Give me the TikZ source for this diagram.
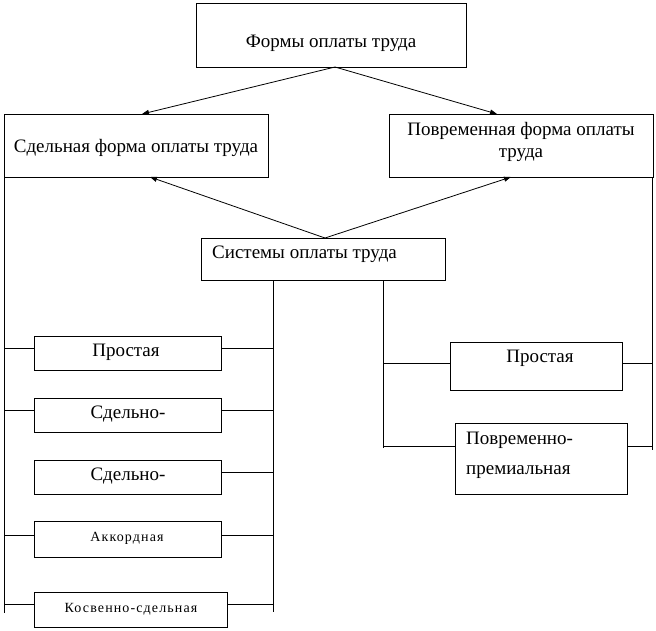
\documentclass[tikz,border=0pt]{standalone}
\usepackage{fontspec}
\setmainfont{Liberation Serif}
\usetikzlibrary{arrows.meta}
\begin{document}
\begin{tikzpicture}[x=1pt,y=-1pt,
  box/.style={draw, line width=0.9pt, inner sep=0pt, anchor=north west},
  txt/.style={inner sep=0pt, font=\fontsize{19}{22}\selectfont},
  small/.style={inner sep=0pt, font=\fontsize{14}{17}\selectfont\addfontfeature{LetterSpace=8}},
  ln/.style={line width=0.9pt},
  arr/.style={line width=0.8pt, -{Triangle[length=7pt,width=5pt]}}]
\useasboundingbox (0,0) rectangle (656,630);
% boxes
\node[box, minimum width=270pt, minimum height=64pt] (top) at (196,3) {};
\node[box, minimum width=264pt, minimum height=63pt] (sd) at (4,114) {};
\node[box, minimum width=264pt, minimum height=63pt] (pv) at (389,114) {};
\node[box, minimum width=244pt, minimum height=42pt] (sys) at (201,238) {};
\node[box, minimum width=187pt, minimum height=34pt] (l1) at (34,336) {};
\node[box, minimum width=187pt, minimum height=34pt] (l2) at (34,398) {};
\node[box, minimum width=187pt, minimum height=34pt] (l3) at (34,460) {};
\node[box, minimum width=187pt, minimum height=36pt] (l4) at (34,521) {};
\node[box, minimum width=193pt, minimum height=35pt] (l5) at (34,592) {};
\node[box, minimum width=172pt, minimum height=48pt] (r1) at (450,342) {};
\node[box, minimum width=172pt, minimum height=71pt] (r2) at (455,423) {};
% texts
\node[txt] (ttop) at (331,43) {Формы оплаты труда};
\node[txt] (tsd) at (136,148) {Сдельная форма оплаты труда};
\node[txt, align=center] (tpv) at (521,142) {Повременная форма оплаты\\[0pt]труда};
\node[txt, anchor=west] (tsys) at (212,254) {Системы оплаты труда};
\node[txt] (tl1) at (126,352) {Простая};
\node[txt] (tl2) at (128,414) {Сдельно-};
\node[txt] (tl3) at (128,476) {Сдельно-};
\node[small] (tl4) at (127,538) {Аккордная};
\node[small] (tl5) at (131,609) {Косвенно-сдельная};
\node[txt] (tr1) at (540,358) {Простая};
\node[txt, anchor=west] (tr2a) at (466,440) {Повременно-};
\node[txt, anchor=west] (tr2b) at (466,472) {премиальная};
% arrows
\coordinate (topo) at (335,67);
\coordinate (syso) at (325,238);
\draw[arr] (topo) -- (142,114);
\draw[arr] (topo) -- (497,114);
\draw[arr] (syso) -- (150,177);
\draw[arr] (syso) -- (511,177);
% vertical lines
\coordinate (lv1) at (4,177);
\coordinate (lv2) at (4,613);
\coordinate (iv1) at (273,280);
\coordinate (iv2) at (273,612);
\coordinate (jv1) at (383,280);
\coordinate (jv2) at (383,448);
\coordinate (rv1) at (652,177);
\coordinate (rv2) at (652,450);
\draw[ln] (lv1) -- (lv2);
\draw[ln] (iv1) -- (iv2);
\draw[ln] (jv1) -- (jv2);
\draw[ln] (rv1) -- (rv2);
% horizontal connectors
\draw[ln] (4,348) -- (l1.west |- 0,348);
\draw[ln] (l1.east |- 0,348) -- (273,348);
\draw[ln] (4,410) -- (l2.west |- 0,410);
\draw[ln] (l2.east |- 0,410) -- (273,410);
\draw[ln] (l3.east |- 0,472) -- (273,472);
\draw[ln] (4,535) -- (l4.west |- 0,535);
\draw[ln] (l4.east |- 0,535) -- (273,535);
\draw[ln] (4,604) -- (l5.west |- 0,604);
\draw[ln] (l5.east |- 0,604) -- (273,604);
\draw[ln] (383,363) -- (r1.west |- 0,363);
\draw[ln] (r1.east |- 0,363) -- (652,363);
\draw[ln] (383,446) -- (r2.west |- 0,446);
\draw[ln] (r2.east |- 0,446) -- (652,446);
\end{tikzpicture}
\end{document}
